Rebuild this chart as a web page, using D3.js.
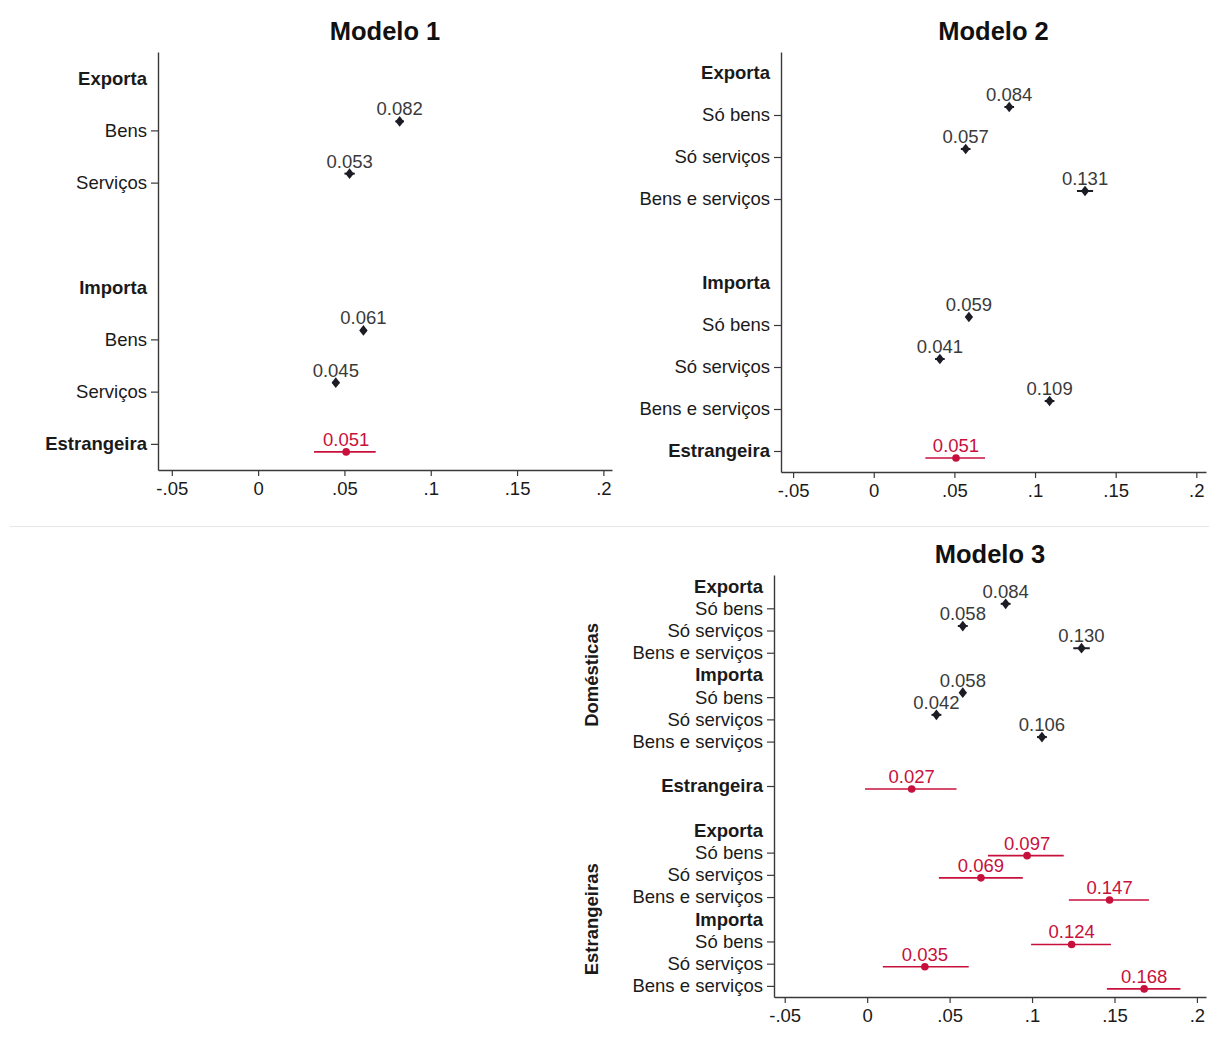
<!DOCTYPE html>
<html>
<head>
<meta charset="utf-8">
<script src="https://cdn.jsdelivr.net/npm/d3@7"></script>
<style>
  html, body { margin: 0; padding: 0; background: #ffffff; }
  svg { display: block; }
  text { font-family: "Liberation Sans", Arial, Helvetica, sans-serif; }
</style>
</head>
<body>
<svg id="chart" width="1209" height="1043"></svg>
<script>
// ---------- DATA ----------
const xTickValues = [-0.05, 0, 0.05, 0.1, 0.15, 0.2];
const xTickLabels = ["-.05", "0", ".05", ".1", ".15", ".2"];

// Model 1
const m1Title = "Modelo 1";
const m1Rows     = ["Exporta", "Bens", "Serviços", "", "Importa", "Bens", "Serviços", "Estrangeira"];
const m1Header   = [true, false, false, false, true, false, false, false];
const m1BoldRow  = [true, false, false, false, true, false, false, true];
const m1Estimate = [null, 0.082, 0.053, null, null, 0.061, 0.045, 0.051];
const m1Lower    = [null, 0.0795, 0.050, null, null, 0.059, 0.043, 0.0324];
const m1Upper    = [null, 0.0845, 0.056, null, null, 0.063, 0.047, 0.0681];
const m1Series   = [null, "dom", "dom", null, null, "dom", "dom", "for"];

// Model 2
const m2Title = "Modelo 2";
const m2Rows     = ["Exporta", "Só bens", "Só serviços", "Bens e serviços", "", "Importa", "Só bens", "Só serviços", "Bens e serviços", "Estrangeira"];
const m2Header   = [true, false, false, false, false, true, false, false, false, false];
const m2BoldRow  = [true, false, false, false, false, true, false, false, false, true];
const m2Estimate = [null, 0.084, 0.057, 0.131, null, null, 0.059, 0.041, 0.109, 0.051];
const m2Lower    = [null, 0.081, 0.054, 0.126, null, null, 0.058, 0.038, 0.106, 0.032];
const m2Upper    = [null, 0.087, 0.060, 0.136, null, null, 0.060, 0.044, 0.112, 0.069];
const m2Series   = [null, "dom", "dom", "dom", null, null, "dom", "dom", "dom", "for"];

// Model 3
const m3Title = "Modelo 3";
const m3Rows     = ["Exporta", "Só bens", "Só serviços", "Bens e serviços", "Importa", "Só bens", "Só serviços", "Bens e serviços", "",
                    "Estrangeira", "",
                    "Exporta", "Só bens", "Só serviços", "Bens e serviços", "Importa", "Só bens", "Só serviços", "Bens e serviços"];
const m3Header   = [true, false, false, false, true, false, false, false, false, false, false, true, false, false, false, true, false, false, false];
const m3BoldRow  = [true, false, false, false, true, false, false, false, false, true, false, true, false, false, false, true, false, false, false];
const m3Estimate = [null, 0.084, 0.058, 0.130, null, 0.058, 0.042, 0.106, null, 0.027, null, null, 0.097, 0.069, 0.147, null, 0.124, 0.035, 0.168];
const m3Lower    = [null, 0.081, 0.055, 0.125, null, 0.057, 0.039, 0.103, null, -0.0013, null, null, 0.0733, 0.0435, 0.1223, null, 0.0994, 0.0095, 0.1454];
const m3Upper    = [null, 0.087, 0.061, 0.135, null, 0.059, 0.045, 0.109, null, 0.0542, null, null, 0.1192, 0.0944, 0.1709, null, 0.1479, 0.0616, 0.1900];
const m3Series   = [null, "dom", "dom", "dom", null, "dom", "dom", "dom", null, "for", null, null, "for", "for", "for", null, "for", "for", "for"];
const m3GroupLabels = ["Domésticas", "Estrangeiras"];
const m3GroupRow    = [4, 15];

// ---------- STYLE ----------
const colDom = "#1c1c24";
const colDomLabel = "#3a3a3a";
const colFor = "#c8103c";
const axisCol = "#3a3a3a";
const fs = 18.5;

const svg = d3.select("#chart");

// faint separator between upper and lower figure
svg.append("line")
  .attr("x1", 10).attr("x2", 1209).attr("y1", 526.5).attr("y2", 526.5)
  .attr("stroke", "#e6e6e6").attr("stroke-width", 1);

function drawPanel(cfg) {
  const n = cfg.rows.length;
  const y = d3.scalePoint().domain(d3.range(n)).range([cfg.y0, cfg.y1]).padding(0.5);
  const x = d3.scaleLinear().domain(cfg.xDomain).range([cfg.x0, cfg.x1]);
  const g = svg.append("g");

  // title
  g.append("text")
    .attr("x", (cfg.x0 + cfg.x1) / 2).attr("y", cfg.titleY)
    .attr("text-anchor", "middle")
    .attr("font-size", 25.5).attr("font-weight", "bold")
    .attr("fill", "#111")
    .text(cfg.title);

  // y axis
  const yAxis = g.append("g")
    .attr("transform", `translate(${cfg.x0},0)`)
    .call(d3.axisLeft(y).tickSize(7).tickSizeOuter(0).tickPadding(4)
      .tickFormat(i => cfg.rows[i]));
  yAxis.select(".domain").attr("stroke", axisCol).attr("stroke-width", 1.4);
  yAxis.selectAll(".tick line")
    .attr("stroke", axisCol).attr("stroke-width", 1.2)
    .attr("display", i => (cfg.header[i] || cfg.rows[i] === "") ? "none" : null);
  yAxis.selectAll(".tick text")
    .attr("font-size", fs)
    .attr("font-family", "'Liberation Sans', Arial, sans-serif")
    .attr("fill", "#1a1a1a")
    .attr("font-weight", i => cfg.bold[i] ? "bold" : "normal");

  // x axis
  const xAxis = g.append("g")
    .attr("transform", `translate(0,${cfg.y1})`)
    .call(d3.axisBottom(x).tickValues(xTickValues).tickSize(6).tickSizeOuter(0).tickPadding(6)
      .tickFormat((d, i) => xTickLabels[i]));
  xAxis.select(".domain").attr("stroke", axisCol).attr("stroke-width", 1.4);
  xAxis.selectAll(".tick line").attr("stroke", axisCol).attr("stroke-width", 1.2);
  xAxis.selectAll(".tick text")
    .attr("font-size", fs)
    .attr("font-family", "'Liberation Sans', Arial, sans-serif")
    .attr("fill", "#1a1a1a");

  const pts = d3.range(n).filter(i => cfg.est[i] !== null).map(i => ({
    i, v: cfg.est[i], lo: cfg.lo[i], hi: cfg.hi[i], s: cfg.series[i]
  }));
  const yPos = d => y(d.i) + (d.s === "dom" ? cfg.offDom : cfg.offFor);

  // CI lines
  g.selectAll(".ci").data(pts).join("line")
    .attr("x1", d => x(d.lo)).attr("x2", d => x(d.hi))
    .attr("y1", yPos).attr("y2", yPos)
    .attr("stroke", d => d.s === "dom" ? colDom : colFor)
    .attr("stroke-width", d => d.s === "dom" ? 2 : 1.6);

  // markers
  const domPts = pts.filter(d => d.s === "dom");
  const forPts = pts.filter(d => d.s === "for");
  g.selectAll(".mdom").data(domPts).join("path")
    .attr("d", d3.symbol().type(d3.symbolDiamond).size(46))
    .attr("transform", d => `translate(${x(d.v)},${yPos(d)}) scale(1.15,0.85)`)
    .attr("fill", colDom);
  g.selectAll(".mfor").data(forPts).join("circle")
    .attr("cx", d => x(d.v)).attr("cy", yPos).attr("r", 3.8)
    .attr("fill", colFor);

  // value labels
  g.selectAll(".vl").data(pts).join("text")
    .attr("x", d => x(d.v)).attr("y", d => yPos(d) - cfg.labelGap)
    .attr("text-anchor", "middle")
    .attr("font-size", fs)
    .attr("fill", d => d.s === "dom" ? colDomLabel : colFor)
    .text(d => d3.format(".3f")(d.v));

  return { x, y, g };
}

drawPanel({
  title: m1Title, rows: m1Rows, header: m1Header, bold: m1BoldRow,
  est: m1Estimate, lo: m1Lower, hi: m1Upper, series: m1Series,
  x0: 158, x1: 612, y0: 52, y1: 470, xDomain: [-0.058, 0.205],
  titleY: 40, offDom: -9, offFor: 8, labelGap: 6
});

drawPanel({
  title: m2Title, rows: m2Rows, header: m2Header, bold: m2BoldRow,
  est: m2Estimate, lo: m2Lower, hi: m2Upper, series: m2Series,
  x0: 781, x1: 1206, y0: 52, y1: 472, xDomain: [-0.0575, 0.206],
  titleY: 40, offDom: -8, offFor: 7, labelGap: 6
});

const p3 = drawPanel({
  title: m3Title, rows: m3Rows, header: m3Header, bold: m3BoldRow,
  est: m3Estimate, lo: m3Lower, hi: m3Upper, series: m3Series,
  x0: 774, x1: 1206, y0: 575, y1: 997, xDomain: [-0.0565, 0.2055],
  titleY: 563, offDom: -4.5, offFor: 3, labelGap: 6
});

// rotated group labels for model 3
p3.g.selectAll(".grp").data(m3GroupLabels).join("text")
  .attr("transform", (d, k) => `translate(598,${p3.y(m3GroupRow[k])}) rotate(-90)`)
  .attr("text-anchor", "middle")
  .attr("font-size", fs).attr("font-weight", "bold")
  .attr("fill", "#1a1a1a")
  .text(d => d);
</script>
</body>
</html>
